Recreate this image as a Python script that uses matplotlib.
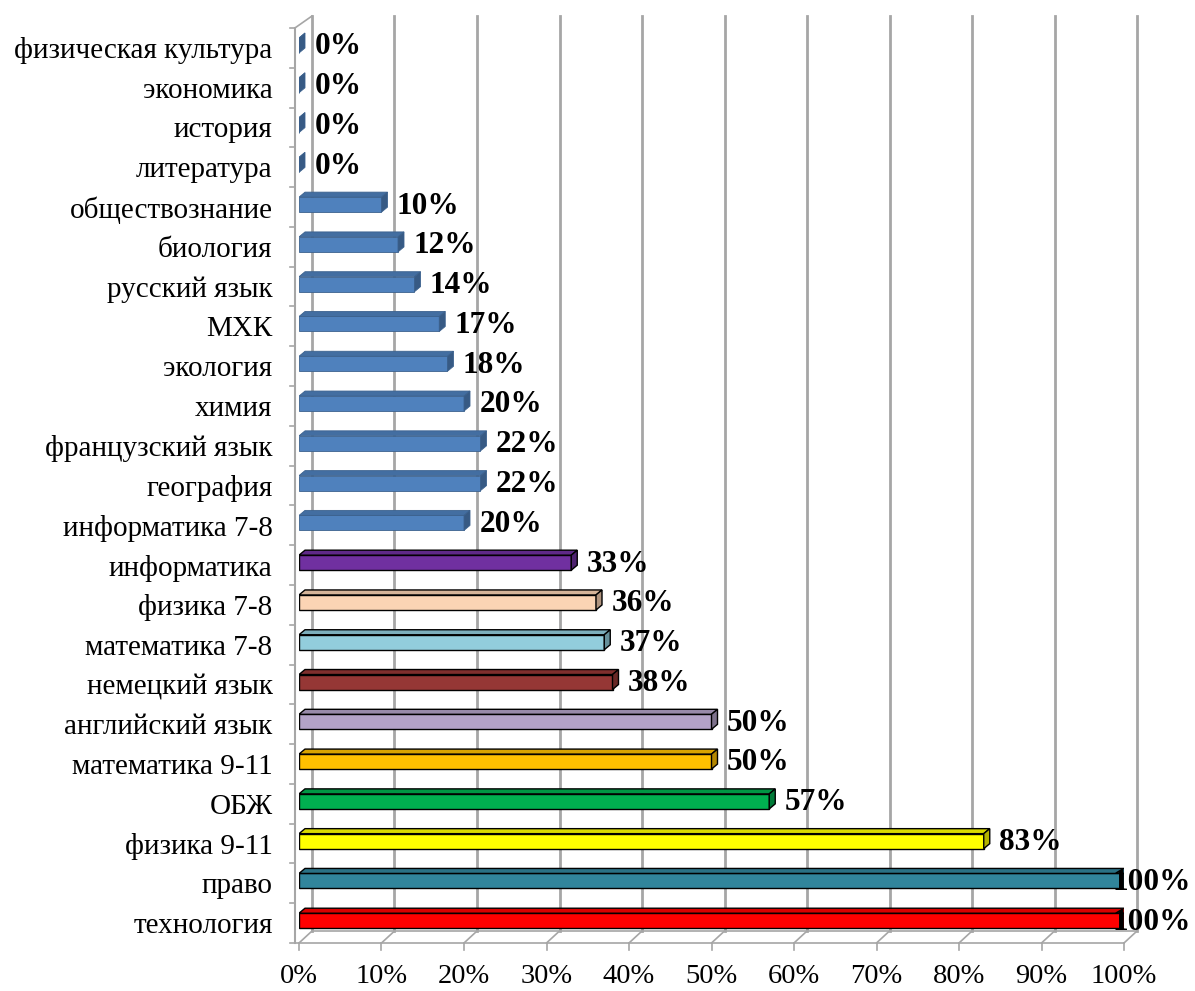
import matplotlib.pyplot as plt
from matplotlib.patches import Polygon

plt.rcParams['font.family'] = ['Liberation Serif', 'DejaVu Serif']

# categories from top to bottom, as in the chart
categories = ['физическая культура', 'экономика', 'история', 'литература',
              'обществознание', 'биология', 'русский язык', 'МХК', 'экология',
              'химия', 'французский язык', 'география', 'информатика 7-8',
              'информатика', 'физика 7-8', 'математика 7-8', 'немецкий язык',
              'английский язык', 'математика 9-11', 'ОБЖ', 'физика 9-11',
              'право', 'технология']
values = [0, 0, 0, 0, 10, 12, 14, 17, 18, 20, 22, 22, 20,
          33, 36, 37, 38, 50, 50, 57, 83, 100, 100]
xticks = list(range(0, 101, 10))

blue = '#4F81BD'
colors = [blue] * 13 + ['#7030A0', '#FBD4B4', '#92CDDC', '#953735', '#B3A2C7',
                        '#FFC000', '#00B050', '#FFFF00', '#31859C', '#FF0000']


def shade(c, f):
    r, g, b = plt.matplotlib.colors.to_rgb(c)
    if f > 1:
        return (r + (1 - r) * (f - 1), g + (1 - g) * (f - 1), b + (1 - b) * (f - 1))
    return (r * f, g * f, b * f)


fig = plt.figure(figsize=(11.95, 9.91), dpi=100)
ax = fig.add_axes([299 / 1195, 48 / 991, 825 / 1195, 915 / 991])
n = len(categories)
ax.set_xlim(0, 100)
ax.set_ylim(-0.5, n - 0.5)
for s in ax.spines.values():
    s.set_visible(False)

px_x = 100 / 825
px_y = n / 915
DX, DY = 13 * px_x, 12 * px_y      # depth of the back wall
bdx, bdy = 6 * px_x, 5 * px_y      # depth of each bar
grid = '#a6a6a6'

# walls and floor
for g in xticks:
    ax.plot([g + DX, g + DX], [-0.5 + DY, n - 0.5 + DY], color=grid, lw=2, clip_on=False, zorder=1)
    ax.plot([g, g + DX], [-0.5, -0.5 + DY], color=grid, lw=1.2, clip_on=False, zorder=1)
    ax.plot([g, g], [-0.5, -0.5 - 7 * px_y], color=grid, lw=1.2, clip_on=False, zorder=1)
ax.plot([-0.5, 100], [-0.5, -0.5], color=grid, lw=1.2, clip_on=False, zorder=1)
ax.plot([DX, 100 + DX], [-0.5 + DY, -0.5 + DY], color=grid, lw=1.2, clip_on=False, zorder=1)
ax.plot([-0.5, -0.5], [-0.5, n - 0.5], color=grid, lw=1.5, clip_on=False, zorder=1)
ax.plot([-0.5, DX], [n - 0.5, n - 0.5 + DY], color=grid, lw=1.2, clip_on=False, zorder=1)
for k in range(n + 1):
    ax.plot([-0.5 - 5 * px_x, -0.5], [k - 0.5, k - 0.5], color=grid, lw=1.2, clip_on=False, zorder=1)

# bars
h = 15 * px_y
for idx, (cat, v, c) in enumerate(zip(categories, values, colors)):
    y = n - 1 - idx + 0.06
    y0, y1 = y - h / 2, y + h / 2
    ec = shade(c, 0.75) if c == blue else 'black'
    lw = 0.6 if c == blue else 1.0
    front = Polygon([(0, y0), (v, y0), (v, y1), (0, y1)], closed=True,
                    facecolor=c, edgecolor=ec, lw=lw, zorder=3)
    top = Polygon([(0, y1), (v, y1), (v + bdx, y1 + bdy), (bdx, y1 + bdy)], closed=True,
                  facecolor=shade(c, 0.85), edgecolor=ec, lw=lw, zorder=3)
    side = Polygon([(v, y0), (v + bdx, y0 + bdy), (v + bdx, y1 + bdy), (v, y1)], closed=True,
                   facecolor=shade(c, 0.7), edgecolor=ec, lw=lw, zorder=3)
    for p in (front, top, side):
        ax.add_patch(p)
    off = -8 if v >= 100 else 11
    ax.annotate(f'{v}%', (v, y), xytext=(off, -1), textcoords='offset points',
                ha='left', va='center', fontsize=22.5, fontweight='bold', zorder=5)

ax.set_yticks(range(n))
ax.set_yticklabels(categories[::-1], fontsize=21)
ax.set_xticks(xticks)
ax.set_xticklabels([f'{t}%' for t in xticks], fontsize=20.5)
ax.tick_params(axis='y', length=0, pad=19)
ax.tick_params(axis='x', length=0, pad=15)

fig.savefig('out.png', dpi=100)
